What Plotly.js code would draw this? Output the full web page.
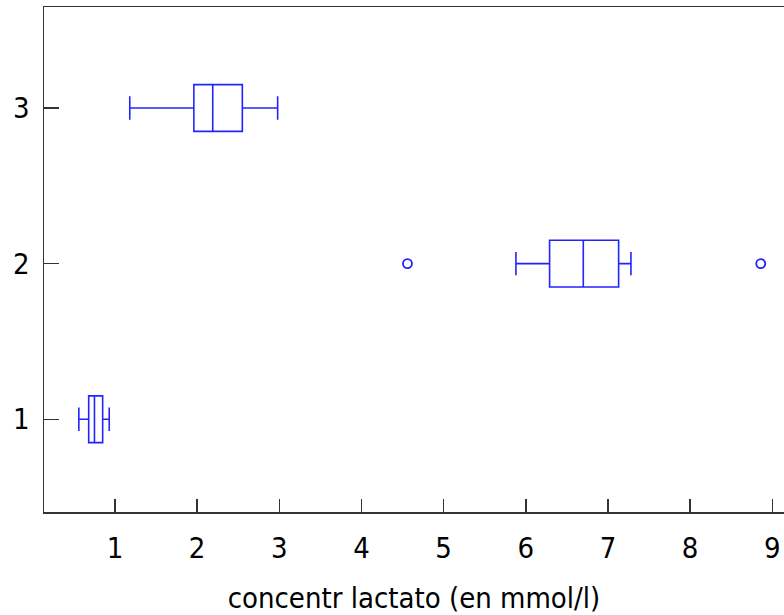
<!DOCTYPE html>
<html>
<head>
<meta charset="utf-8">
<script src="https://cdn.plot.ly/plotly-3.0.1.min.js"></script>
<style>html,body{margin:0;padding:0;background:#fff;overflow:hidden;}</style>
</head>
<body>
<div id="chart" style="width:784px;height:615px;"></div>
<script>
// Groups (y categories)
const groups = [1, 2, 3];
// Box statistics per group (concentr lactato, mmol/l)
const lowerWhisker = [0.56, 5.88, 1.18];
const q1Values     = [0.68, 6.29, 1.96];
const medians      = [0.75, 6.70, 2.19];
const q3Values     = [0.85, 7.13, 2.55];
const upperWhisker = [0.93, 7.28, 2.98];
// Outliers
const outlierX = [4.56, 8.86];
const outlierY = [2, 2];
const xTicks = [1, 2, 3, 4, 5, 6, 7, 8, 9];
const yTicks = [1, 2, 3];

const blue = 'rgb(35,35,255)';
const fontFam = '"DejaVu Sans Condensed", "DejaVu Sans", sans-serif';

const traces = [{
  type: 'box',
  orientation: 'h',
  y: groups,
  q1: q1Values,
  median: medians,
  q3: q3Values,
  lowerfence: lowerWhisker,
  upperfence: upperWhisker,
  width: 0.3,
  whiskerwidth: 0.5,
  boxpoints: false,
  fillcolor: 'rgba(0,0,0,0)',
  line: {color: blue, width: 1.6},
  hoverinfo: 'skip',
  showlegend: false
}, {
  type: 'scatter',
  mode: 'markers',
  x: outlierX,
  y: outlierY,
  marker: {symbol: 'circle-open', size: 9, color: blue, line: {width: 1.8, color: blue}},
  showlegend: false,
  hoverinfo: 'skip'
}];

const layout = {
  width: 784,
  height: 615,
  margin: {l: 44, r: 0, t: 7, b: 103},
  paper_bgcolor: '#fff',
  plot_bgcolor: '#fff',
  font: {family: fontFam, size: 29, color: '#000'},
  showlegend: false,
  xaxis: {
    range: [0.136, 9.143],
    tickvals: xTicks,
    ticktext: xTicks.map(String),
    ticks: 'inside',
    ticklen: 13,
    tickwidth: 1.5,
    tickcolor: '#333',
    showline: true,
    linecolor: '#333',
    linewidth: 1.5,
    mirror: true,
    showgrid: false,
    zeroline: false,
    ticklabelstandoff: 10,
    tickfont: {family: fontFam, size: 29, color: '#000'},
    title: {text: 'concentr lactato (en mmol/l)', font: {family: fontFam, size: 29, color: '#000'}, standoff: 24}
  },
  yaxis: {
    range: [0.404, 3.649],
    tickvals: yTicks,
    ticktext: yTicks.map(String),
    ticks: 'inside',
    ticklen: 15,
    tickwidth: 1.5,
    tickcolor: '#333',
    showline: true,
    linecolor: '#333',
    linewidth: 1.5,
    showgrid: false,
    zeroline: false,
    ticklabelstandoff: 7,
    tickfont: {family: fontFam, size: 29, color: '#000'}
  }
};

Plotly.newPlot('chart', traces, layout, {staticPlot: true, displayModeBar: false});
</script>
</body>
</html>
